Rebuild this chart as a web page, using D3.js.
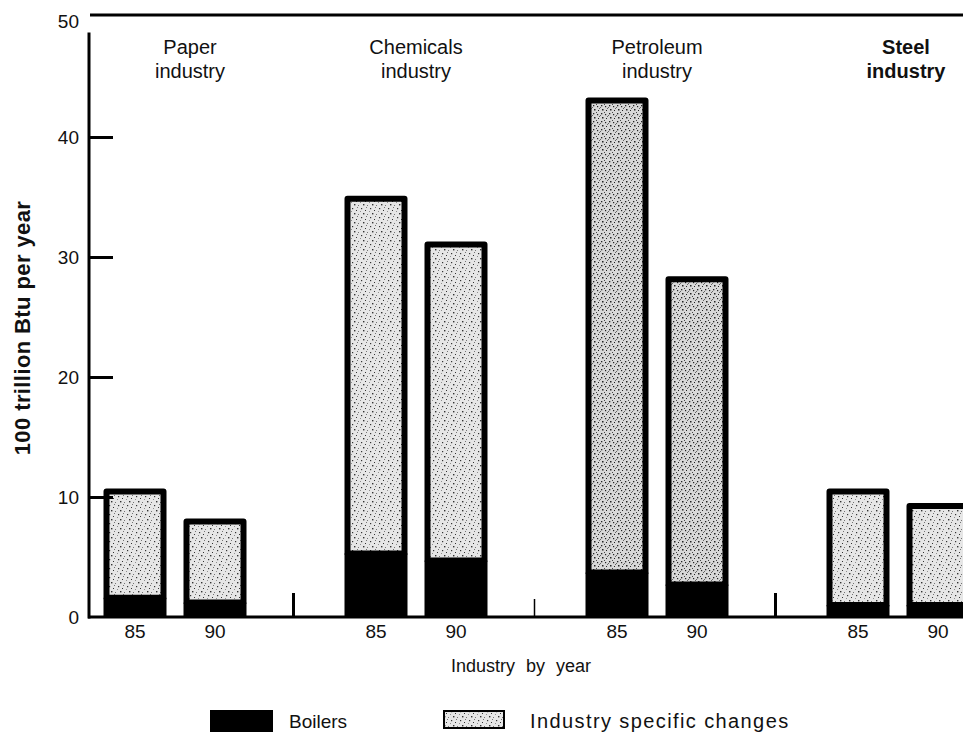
<!DOCTYPE html>
<meta charset="utf-8">
<style>
body { margin: 0; background: #fff; }
text { font-family: "Liberation Sans", Arial, sans-serif; fill: #111; }
.axis text { font-size: 19px; }
</style>
<svg width="963" height="732"></svg>
<script src="https://d3js.org/d3.v7.min.js"></script>
<script>
// values, in 100 trillion Btu per year
var industries = ["Paper", "Chemicals", "Petroleum", "Steel"];
var years = ["85", "90"];
var totals = [[10.7, 8.2], [35.1, 31.3], [43.3, 28.4], [10.7, 9.5]];
var boilers = [[1.6, 1.2], [5.3, 4.7], [3.7, 2.7], [1.0, 1.0]];
var yTicks = [0, 10, 20, 30, 40, 50];

var svg = d3.select("svg");

var y = d3.scaleLinear().domain([0, 50]).range([617, 17]);

var x0 = d3.scaleBand()
  .domain(industries)
  .range([54.5, 54.5 + 4 * 241]);

var x1 = d3.scaleBand()
  .domain(years)
  .range([0, x0.bandwidth()])
  .paddingInner(0.2125)
  .paddingOuter(0.6125);

// speckled grey texture for the industry part
var defs = svg.append("defs");
var pat = defs.append("pattern")
  .attr("id", "stip")
  .attr("patternUnits", "userSpaceOnUse")
  .attr("width", 9).attr("height", 9);
pat.append("rect").attr("width", 9).attr("height", 9).attr("fill", "#e6e6e6");
[[1, 1, 1.2], [5, 3, 1], [3, 6, 1.4], [7, 7, 0.8], [0, 4, 0.7], [6, 0, 0.8]].forEach(function(d) {
  pat.append("rect").attr("x", d[0]).attr("y", d[1])
    .attr("width", d[2]).attr("height", d[2]).attr("fill", "#333");
});
var patDark = defs.append("pattern")
  .attr("id", "stipDark")
  .attr("patternUnits", "userSpaceOnUse")
  .attr("width", 8).attr("height", 8);
patDark.append("rect").attr("width", 8).attr("height", 8).attr("fill", "#d8d8d8");
[[1, 1, 1.3], [5, 2, 1.2], [2, 5, 1.5], [6, 6, 1], [0, 3, 0.8], [4, 0, 0.9], [7, 4, 0.8]].forEach(function(d) {
  patDark.append("rect").attr("x", d[0]).attr("y", d[1])
    .attr("width", d[2]).attr("height", d[2]).attr("fill", "#222");
});

var rows = [];
industries.forEach(function(ind, i) {
  years.forEach(function(yr, j) {
    rows.push({ind: ind, year: yr, total: totals[i][j], boil: boilers[i][j]});
  });
});

var g = svg.append("g");

// industry specific changes: outlined speckled box
g.selectAll("rect.ind")
  .data(rows).enter().append("rect")
  .attr("class", "ind")
  .attr("x", function(d) { return x0(d.ind) + x1(d.year) + 3; })
  .attr("y", function(d) { return y(d.total) + 3; })
  .attr("width", x1.bandwidth() - 6)
  .attr("height", function(d) { return y(d.boil) - y(d.total) - 3; })
  .attr("fill", function(d) { return d.ind == "Petroleum" ? "url(#stipDark)" : "url(#stip)"; })
  .attr("stroke", "#000")
  .attr("stroke-width", 6)
  .attr("stroke-linejoin", "round");

// boilers: solid black base
g.selectAll("rect.boil")
  .data(rows).enter().append("rect")
  .attr("class", "boil")
  .attr("x", function(d) { return x0(d.ind) + x1(d.year); })
  .attr("y", function(d) { return y(d.boil); })
  .attr("width", x1.bandwidth())
  .attr("height", function(d) { return y(0) - y(d.boil); })
  .attr("fill", "#000");

// axes
var yAxis = svg.append("g")
  .attr("class", "axis")
  .attr("transform", "translate(89,0)")
  .call(d3.axisLeft(y).tickValues(yTicks).tickSizeInner(-24).tickSizeOuter(0).tickPadding(10));
yAxis.select(".domain").remove();
yAxis.selectAll(".tick line")
  .attr("stroke", "#000").attr("stroke-width", 3)
  .attr("display", function(d) { return (d == 0 || d == 50) ? "none" : null; });
yAxis.selectAll(".tick text").attr("dy", function(d) { return d == 50 ? "0.55em" : "0.32em"; });

svg.append("line")
  .attr("x1", 89).attr("x2", 89)
  .attr("y1", y(48.7)).attr("y2", y(0) + 1.5)
  .attr("stroke", "#000").attr("stroke-width", 3);

svg.append("line")
  .attr("x1", 90).attr("x2", 963)
  .attr("y1", y(50) - 2).attr("y2", y(50) - 2)
  .attr("stroke", "#000").attr("stroke-width", 3);

svg.append("line")
  .attr("x1", 88).attr("x2", 963)
  .attr("y1", y(0)).attr("y2", y(0))
  .attr("stroke", "#000").attr("stroke-width", 3);

// little separators between industries
g.selectAll("line.sep")
  .data(industries.slice(1)).enter().append("line")
  .attr("class", "sep")
  .attr("x1", function(d) { return x0(d) - 2; })
  .attr("x2", function(d) { return x0(d) - 2; })
  .attr("y1", function(d, i) { return y(0) - (i == 1 ? 18 : 24); })
  .attr("y2", y(0))
  .attr("stroke", "#000")
  .attr("stroke-width", function(d, i) { return i == 1 ? 1.5 : 3; });

// year labels
g.selectAll("text.yr")
  .data(rows).enter().append("text")
  .attr("class", "yr")
  .attr("x", function(d) { return x0(d.ind) + x1(d.year) + x1.bandwidth() / 2; })
  .attr("y", y(0) + 21)
  .attr("text-anchor", "middle")
  .style("font-size", "19px")
  .text(function(d) { return d.year; });

// industry labels
var lab = g.selectAll("text.lab")
  .data(industries).enter().append("text")
  .attr("class", "lab")
  .attr("text-anchor", "middle")
  .style("font-size", "20px")
  .style("font-weight", function(d) { return d == "Steel" ? "bold" : null; })
  .attr("transform", function(d) {
    var off = d == "Paper" ? 15 : (d == "Steel" ? 8 : 0);
    return "translate(" + (x0(d) + x0.bandwidth() / 2 + off) + ",54)";
  });
lab.append("tspan").attr("x", 0).attr("dy", 0).text(function(d) { return d; });
lab.append("tspan").attr("x", 0).attr("dy", 24).text("industry");

// axis titles
svg.append("text")
  .attr("x", 521).attr("y", 672)
  .attr("text-anchor", "middle")
  .style("font-size", "18px")
  .style("word-spacing", "6px")
  .text("Industry by year");

svg.append("text")
  .attr("transform", "translate(30,328) rotate(-90)")
  .attr("text-anchor", "middle")
  .style("font-size", "22px")
  .style("font-weight", "bold")
  .style("letter-spacing", "0.4px")
  .text("100 trillion Btu per year");

// legend
var legend = svg.append("g").attr("transform", "translate(0,710)");
legend.append("rect").attr("x", 210).attr("y", 0).attr("width", 63).attr("height", 22).attr("fill", "#000");
legend.append("text").attr("x", 289).attr("y", 18).style("font-size", "19px").text("Boilers");
legend.append("rect").attr("x", 444).attr("y", 1).attr("width", 60).attr("height", 17)
  .attr("fill", "url(#stip)").attr("stroke", "#000").attr("stroke-width", 2);
legend.append("text").attr("x", 530).attr("y", 18)
  .style("font-size", "20px").style("letter-spacing", "1.4px")
  .text("Industry specific changes");
</script>
